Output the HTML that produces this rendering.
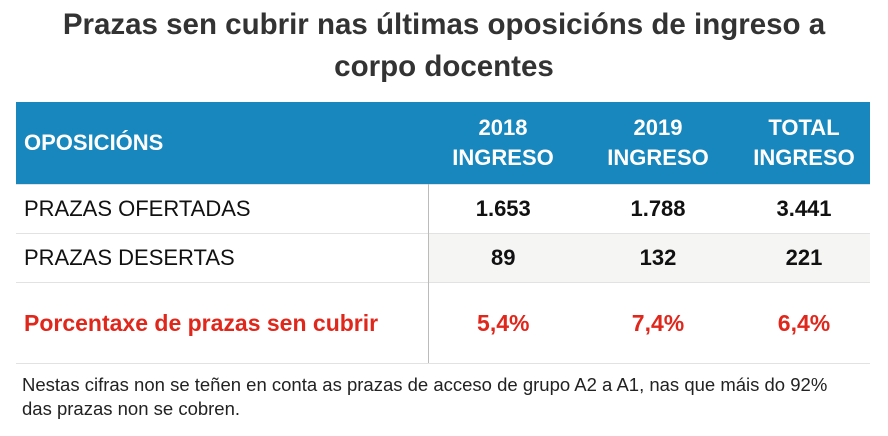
<!DOCTYPE html>
<html><head><meta charset="utf-8">
<style>
body{margin:0;width:888px;height:436px;background:#fff;font-family:"Liberation Sans",sans-serif;position:relative;overflow:hidden}
#title{position:absolute;left:0;top:4px;width:888px;text-align:center;font-weight:bold;font-size:29.5px;line-height:42px;color:#333}
table{position:absolute;left:16px;top:102px;width:854px;border-collapse:collapse}
th{background:#1787bd;color:#fff;font-size:22px;font-weight:bold;height:82px;line-height:30px;padding:0}
th.l{text-align:left;padding-left:8px}
td{font-size:22px;padding:0;text-align:center;font-weight:bold;color:#111;border-top:1px solid #e2e2e2}
td.l{text-align:left;padding-left:8px;font-weight:normal;border-right:1px solid #bbb}
tr.r1 td{height:48px}
tr.r2 td{height:48px;background:#f5f5f4}
tr.r2 td.l{background:#fff}
tr.r3 td{height:80px;color:#e0271c;font-size:23px;border-bottom:1px solid #e2e2e2}
tr.r3 td.l{font-weight:bold}
#note{position:absolute;left:22px;top:373px;font-size:18.5px;line-height:24px;color:#222}
</style></head><body>
<div id="title">Prazas sen cubrir nas últimas oposicións de ingreso a<br>corpo docentes</div>
<table>
<colgroup><col style="width:412px"><col style="width:150px"><col style="width:160px"><col></colgroup>
<tr><th class="l">OPOSICIÓNS</th><th>2018<br>INGRESO</th><th>2019<br>INGRESO</th><th>TOTAL<br>INGRESO</th></tr>
<tr class="r1"><td class="l">PRAZAS OFERTADAS</td><td>1.653</td><td>1.788</td><td>3.441</td></tr>
<tr class="r2"><td class="l">PRAZAS DESERTAS</td><td>89</td><td>132</td><td>221</td></tr>
<tr class="r3"><td class="l">Porcentaxe de prazas sen cubrir</td><td>5,4%</td><td>7,4%</td><td>6,4%</td></tr>
</table>
<div id="note">Nestas cifras non se teñen en conta as prazas de acceso de grupo A2 a A1, nas que máis do 92%<br>das prazas non se cobren.</div>
</body></html>
